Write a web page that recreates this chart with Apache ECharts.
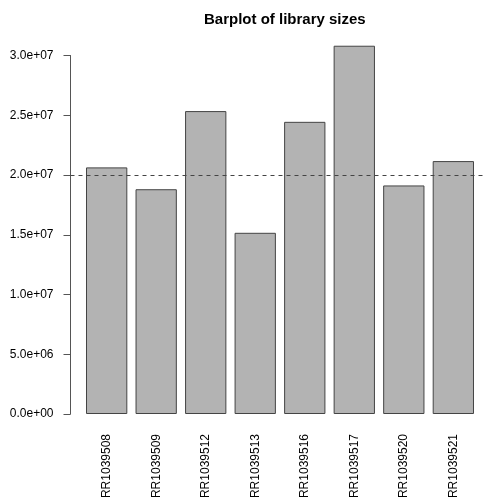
<!DOCTYPE html>
<html>
<head>
<meta charset="utf-8">
<script src="https://cdn.jsdelivr.net/npm/echarts@6/dist/echarts.min.js"></script>
<style>
  html, body { margin: 0; padding: 0; background: #fff; }
  #chart { width: 485px; height: 497px; }
</style>
</head>
<body>
<div id="chart"></div>
<script>
// Library sizes (total read counts per sample)
const samples = ['SRR1039508', 'SRR1039509', 'SRR1039512', 'SRR1039513',
                 'SRR1039516', 'SRR1039517', 'SRR1039520', 'SRR1039521'];
const librarySizes = [20637971, 18809481, 25348649, 15163415,
                      24448408, 30818215, 19126151, 21164133];
const yTickLabels = ['0.0e+00', '5.0e+06', '1.0e+07', '1.5e+07',
                     '2.0e+07', '2.5e+07', '3.0e+07'];
const referenceLine = 2e7;

const Y_MIN = 0, Y_MAX = 3e7, Y_STEP = 5e6;
const FONT = '"Liberation Sans", Arial, Helvetica, sans-serif';

const chart = echarts.init(document.getElementById('chart'), null, { renderer: 'canvas' });

const plotTop = 55.5, plotHeight = 358.5;

chart.setOption({
  animation: false,
  backgroundColor: '#ffffff',
  title: {
    text: 'Barplot of library sizes',
    left: 199,
    top: 7,
    textStyle: { fontFamily: FONT, fontSize: 15, fontWeight: 'bold', color: '#000' }
  },
  grid: [
    // bars
    { left: 81.9, width: 396.2, top: plotTop, height: plotHeight,
      containLabel: false, outerBoundsMode: 'none' },
    // full plot region: y axis and the reference line
    { left: 70.5, width: 419, top: plotTop, height: plotHeight,
      containLabel: false, outerBoundsMode: 'none' }
  ],
  xAxis: [
    {
      gridIndex: 0,
      type: 'category',
      data: samples,
      boundaryGap: true,
      axisLine: { show: false },
      axisTick: { show: false },
      axisLabel: {
        interval: 0,
        rotate: 90,
        margin: 20,
        fontFamily: FONT,
        fontSize: 12,
        color: '#000'
      }
    },
    { gridIndex: 1, type: 'value', min: 0, max: 1, show: false }
  ],
  yAxis: [
    { gridIndex: 0, type: 'value', min: Y_MIN, max: Y_MAX, show: false },
    {
      gridIndex: 1,
      type: 'value',
      min: Y_MIN,
      max: Y_MAX,
      interval: Y_STEP,
      splitLine: { show: false },
      axisLine: { show: true, lineStyle: { color: '#555', width: 1 } },
      axisTick: { show: true, length: 7, lineStyle: { color: '#555', width: 1 } },
      axisLabel: {
        margin: 17,
        fontFamily: FONT,
        fontSize: 12,
        color: '#000',
        formatter: v => yTickLabels[Math.round(v / Y_STEP)]
      }
    }
  ],
  series: [
    {
      type: 'bar',
      xAxisIndex: 0,
      yAxisIndex: 0,
      data: librarySizes,
      barWidth: 41.3,
      clip: false,
      itemStyle: { color: '#B3B3B3', borderColor: '#444', borderWidth: 1 }
    },
    {
      type: 'line',
      xAxisIndex: 1,
      yAxisIndex: 1,
      data: [],
      silent: true,
      markLine: {
        silent: true,
        symbol: 'none',
        label: { show: false },
        lineStyle: { color: '#444', width: 1, type: [4, 4] },
        data: [{ yAxis: referenceLine }]
      }
    }
  ]
});
</script>
</body>
</html>
